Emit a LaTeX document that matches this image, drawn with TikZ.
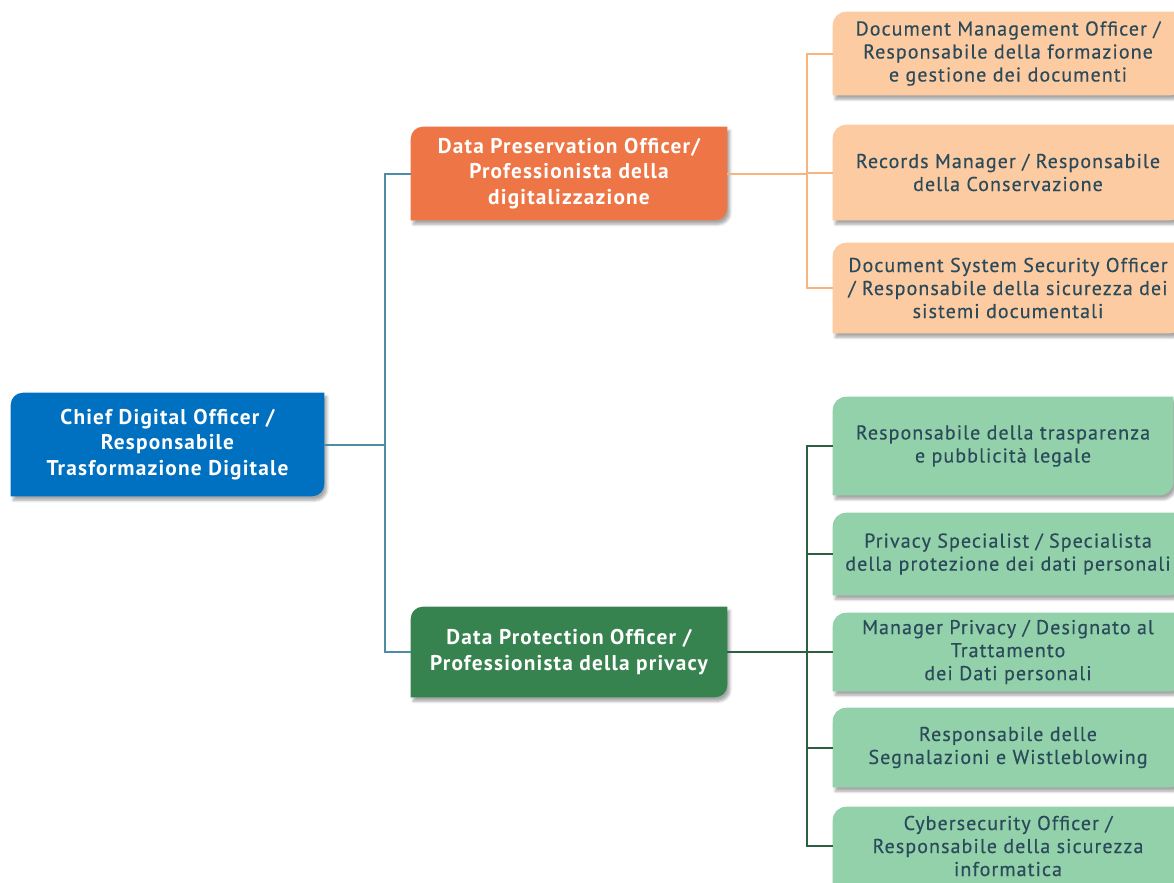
\documentclass[tikz,border=0pt]{standalone}
\usepackage{fontspec}
\setmainfont{PT Sans}[LetterSpace=5.5]
\newfontfamily\kidfont{PT Sans}[LetterSpace=5.4, FakeBold=0.4]
\usetikzlibrary{positioning, calc, shadows.blur, backgrounds}

\definecolor{cdoblue}{HTML}{0070C0}
\definecolor{preorange}{HTML}{EE7545}
\definecolor{progreen}{HTML}{37834F}
\definecolor{peach}{HTML}{FDCBA2}
\definecolor{mint}{HTML}{93D1AB}
\definecolor{kidtext}{HTML}{2B4A5A}
\definecolor{tealline}{HTML}{4E8DA6}
\definecolor{peachline}{HTML}{F9B47E}
\definecolor{greenline}{HTML}{2D6040}

% leaf-shaped fill: rounded only top left and bottom right
\newcommand{\leafshape}[3]{%
  \fill[#2, blur shadow={shadow xshift=2pt, shadow yshift=-3pt, shadow opacity=35, shadow blur steps=6}]
    (#1.south west) -- ([yshift=-#3]#1.north west)
    arc[start angle=180, end angle=90, radius=#3] -- (#1.north east)
    -- ([yshift=#3]#1.south east)
    arc[start angle=0, end angle=-90, radius=#3] -- cycle;}

\tikzset{
  boss/.style={inner sep=0pt, align=center, text=white,
    font=\fontsize{16}{19}\selectfont\bfseries},
  kid/.style={inner sep=0pt, align=center, text=kidtext,
    minimum width=262.5pt, font=\kidfont\fontsize{15}{17.25}\selectfont},
  link/.style={line width=1.5pt}
}

\begin{document}
\begin{tikzpicture}[x=0.75pt, y=-0.75pt]
\useasboundingbox (0,0) rectangle (1174,882);
\clip (0,0) rectangle (1174,882);

% root and the two branches
\node[boss, minimum width=234.75pt, minimum height=77.25pt] (cdo) at (167.5,444.5)
  {Chief Digital Officer /\\Responsabile\\Trasformazione Digitale};
\node[boss, minimum width=237pt, minimum height=69.75pt] (preserve) at (569,173.5)
  {Data Preservation Officer/\\Professionista della\\digitalizzazione};
\node[boss, minimum width=237pt, minimum height=67.5pt] (protect) at (569,652)
  {Data Protection Officer /\\Professionista della privacy};

% orange children
\node[kid, minimum height=62.25pt] (docman) at (1008,53.5)
  {Document Management Officer /\\Responsabile della formazione\\e gestione dei documenti};
\node[kid, minimum height=71.25pt] (records) at (1008,172.5)
  {Records Manager / Responsabile\\della Conservazione};
\node[kid, minimum height=67.5pt] (docsec) at (1008,288)
  {Document System Security Officer\\/ Responsabile della sicurezza dei\\sistemi documentali};

% green children
\node[kid, minimum width=255pt, minimum height=73.5pt] (transp) at (1003,446)
  {Responsabile della trasparenza\\e pubblicità legale};
\node[kid, minimum height=61.5pt] (privspec) at (1008,554)
  {Privacy Specialist / Specialista\\della protezione dei dati personali};
\node[kid, minimum height=58.5pt] (privman) at (1008,652)
  {Manager Privacy / Designato al\\Trattamento\\dei Dati personali};
\node[kid, minimum height=59.25pt] (whistle) at (1008,747.5)
  {Responsabile delle\\Segnalazioni e Wistleblowing};
\node[kid, minimum height=58.5pt] (cyber) at (1008,846)
  {Cybersecurity Officer /\\Responsabile della sicurezza\\informatica};

\begin{pgfonlayer}{background}
\leafshape{cdo}{cdoblue}{9pt}
\leafshape{preserve}{preorange}{9pt}
\leafshape{protect}{progreen}{9pt}
\foreach \n in {docman, records, docsec}
  \leafshape{\n}{peach}{10pt};
\foreach \n in {transp, privspec, privman, whistle, cyber}
  \leafshape{\n}{mint}{10pt};

% connectors
\coordinate (hubroot) at (385,444.5);
\coordinate (hubpre) at (807,173.5);
\coordinate (hubpro) at (807,652);
\draw[link, tealline] (cdo.east) -- (hubroot);
\draw[link, tealline] (hubroot) |- (preserve.west);
\draw[link, tealline] (hubroot) |- (protect.west);
\draw[link, peachline] (preserve.east) -- (hubpre);
\foreach \n in {docman, records, docsec}
  \draw[link, peachline] (hubpre) |- (\n.west);
\draw[link, greenline] (protect.east) -- (hubpro);
\foreach \n in {transp, privspec, privman, whistle, cyber}
  \draw[link, greenline] (hubpro) |- (\n.west);
\end{pgfonlayer}
\end{tikzpicture}
\end{document}
